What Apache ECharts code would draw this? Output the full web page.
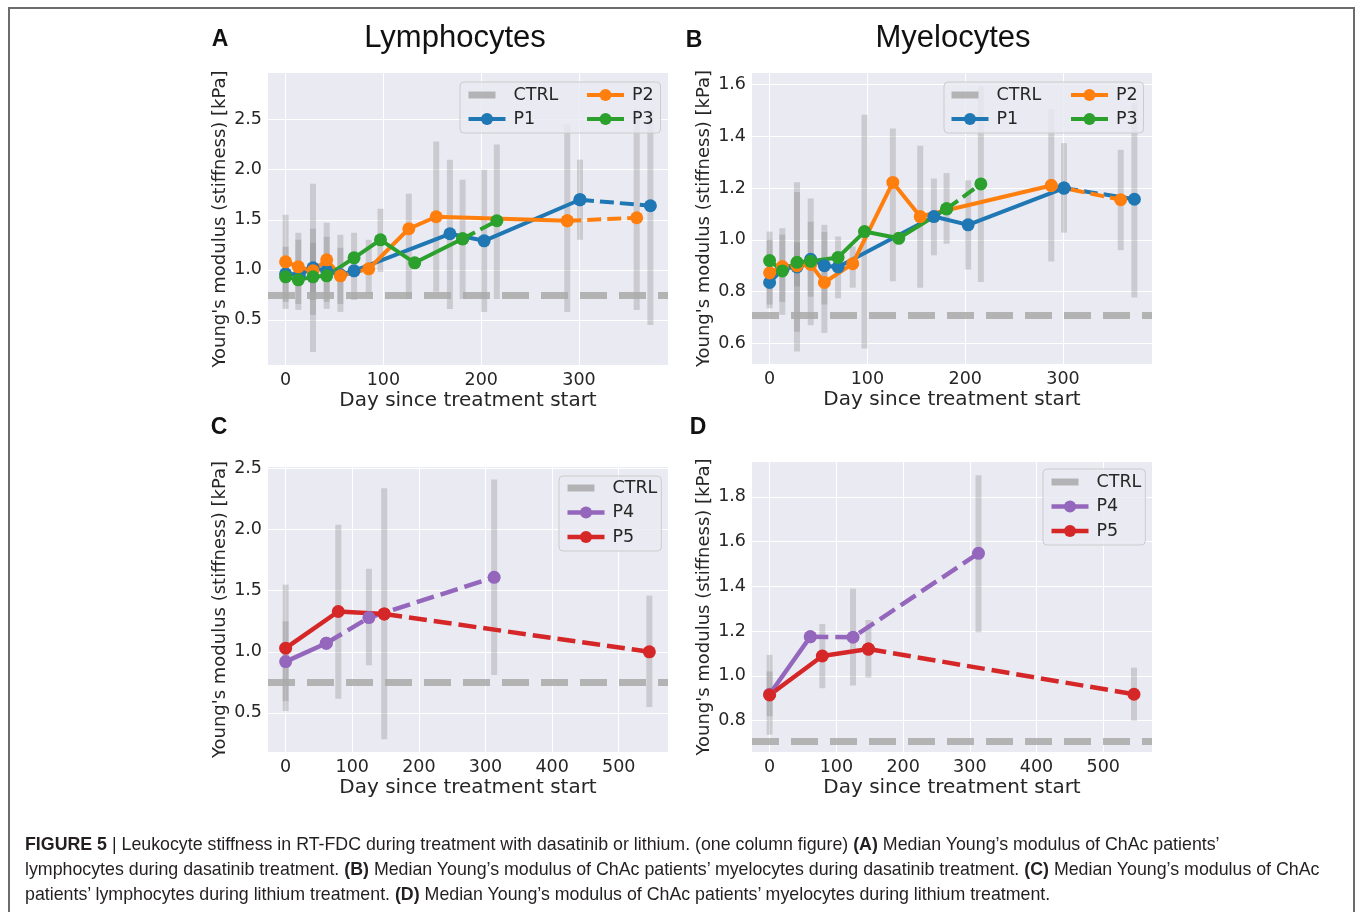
<!DOCTYPE html>
<html>
<head>
<meta charset="utf-8">
<title>Figure 5 - Leukocyte stiffness</title>
<script src="https://cdn.jsdelivr.net/npm/echarts@6/dist/echarts.min.js"></script>
<style>
  html, body { margin: 0; padding: 0; background: #fff; }
  #page { position: relative; width: 1355px; height: 912px; overflow: hidden; }
  #frame { position: absolute; left: 8px; top: 7px; width: 1343px; height: 940px; border: 2px solid #6c6c6c; border-bottom: none; }
  #chart { position: absolute; left: 0; top: 0; width: 1355px; height: 912px; }
  #caption { position: absolute; left: 25px; top: 832px; font-family: "Liberation Sans", Arial, sans-serif;
             font-size: 17.8px; line-height: 25px; color: #231f20; white-space: nowrap; }
</style>
</head>
<body>
<div id="page">
  <div id="frame"></div>
  <div id="chart"></div>
  <div id="caption">
    <b>FIGURE 5</b> | Leukocyte stiffness in RT-FDC during treatment with dasatinib or lithium. (one column figure) <b>(A)</b> Median Young’s modulus of ChAc patients’<br>
    lymphocytes during dasatinib treatment. <b>(B)</b> Median Young’s modulus of ChAc patients’ myelocytes during dasatinib treatment. <b>(C)</b> Median Young’s modulus of ChAc<br>
    patients’ lymphocytes during lithium treatment. <b>(D)</b> Median Young’s modulus of ChAc patients’ myelocytes during lithium treatment.
  </div>
</div>
<script>
// 天数（治疗开始后）
var p1Days = [0, 14, 28, 42, 56, 70, 168, 203, 301, 373];
var p2Days = [0, 13, 28, 42, 56, 85, 126, 154, 288, 359];
var p3Days = [0, 13, 28, 42, 70, 97, 132, 181, 216];
var p4Days = [0, 61, 125, 313];
var p5Days = [0, 79, 148, 546];

// median Young's modulus [kPa] - lymphocytes
var lymP1 = [0.96, 0.95, 1.02, 0.99, 0.95, 0.99, 1.36, 1.29, 1.70, 1.64];
var lymP2 = [1.08, 1.03, 0.99, 1.10, 0.94, 1.01, 1.41, 1.53, 1.49, 1.52];
var lymP3 = [0.93, 0.90, 0.93, 0.94, 1.12, 1.30, 1.07, 1.31, 1.49];
var lymP4 = [0.92, 1.07, 1.28, 1.61];
var lymP5 = [1.03, 1.33, 1.31, 1.00];

// median Young's modulus [kPa] - myelocytes
var myeP1 = [0.835, 0.89, 0.895, 0.925, 0.90, 0.895, 1.09, 1.058, 1.20, 1.157];
var myeP2 = [0.872, 0.897, 0.90, 0.905, 0.835, 0.908, 1.222, 1.09, 1.21, 1.155];
var myeP3 = [0.92, 0.88, 0.913, 0.917, 0.932, 1.032, 1.006, 1.12, 1.216];
var myeP4 = [0.918, 1.175, 1.173, 1.548];
var myeP5 = [0.915, 1.089, 1.12, 0.918];

// point index where a patient's line turns dashed
var dashFrom = { P1: 8, P2: 8, P3: 7, P4: 1, P5: 2 };

// control medians
var ctrlLym = 0.752;
var ctrlMye = 0.711;

// gray ranges: [day, low, high]
var barsA = [
  [0, 0.61, 1.55], [0, 0.68, 1.23], [13, 0.60, 1.37], [13, 0.66, 1.30],
  [28, 0.18, 1.86], [28, 0.55, 1.41], [28, 0.70, 1.27], [42, 0.61, 1.47], [42, 0.68, 1.33],
  [56, 0.58, 1.35], [56, 0.66, 1.22], [70, 0.70, 1.37], [85, 0.76, 1.30], [97, 0.98, 1.61],
  [126, 0.71, 1.76], [154, 0.78, 2.28], [168, 0.61, 2.10], [181, 0.71, 1.90],
  [203, 0.58, 2.00], [216, 0.71, 2.25], [288, 0.58, 2.45], [301, 1.30, 2.10],
  [359, 0.60, 2.60], [373, 0.45, 2.60]
];
var barsB = [
  [0, 0.735, 1.032], [0, 0.75, 1.00], [13, 0.71, 1.045], [13, 0.76, 1.02],
  [28, 0.568, 1.223], [28, 0.645, 1.185], [28, 0.82, 0.99], [42, 0.67, 1.16], [42, 0.78, 1.07],
  [56, 0.64, 1.058], [56, 0.75, 1.03], [70, 0.774, 1.013], [85, 0.815, 0.974], [97, 0.58, 1.484],
  [126, 0.84, 1.43], [154, 0.815, 1.364], [168, 0.94, 1.237], [181, 0.985, 1.258],
  [203, 0.885, 1.23], [216, 0.837, 1.593], [288, 0.916, 1.505], [301, 1.028, 1.374],
  [359, 0.96, 1.348], [373, 0.777, 1.53]
];
var barsC = [
  [0, 0.515, 1.55], [0, 0.597, 1.25], [79, 0.616, 2.04], [125, 0.89, 1.68],
  [148, 0.284, 2.34], [313, 0.81, 2.41], [546, 0.548, 1.46]
];
var barsD = [
  [0, 0.737, 1.094], [0, 0.82, 1.02], [79, 0.945, 1.232], [125, 0.957, 1.39],
  [148, 0.993, 1.25], [313, 1.195, 1.897], [546, 0.80, 1.037]
];

// tick labels
var dayTicksShort = [0, 100, 200, 300];
var dayTicksLong = [0, 100, 200, 300, 400, 500];
var ticksA = [0.5, 1.0, 1.5, 2.0, 2.5];
var ticksB = [0.6, 0.8, 1.0, 1.2, 1.4, 1.6];
var ticksC = [0.5, 1.0, 1.5, 2.0, 2.5];
var ticksD = [0.8, 1.0, 1.2, 1.4, 1.6, 1.8];

var colors = { P1: "#1f77b4", P2: "#ff7f0e", P3: "#2ca02c", P4: "#9467bd", P5: "#d62728" };
var FONT = "DejaVu Sans";
var TXT = "#262626";
var BAR = "rgba(128,128,128,0.3)";
var CTRL_COLOR = "rgba(169,169,169,0.85)";
var CTRL_DASH = [27, 12];

var chartDom = document.getElementById("chart");
var myChart = echarts.init(chartDom);

// 四个面板的布局
var panels = [
  { rect: [268, 73, 400, 292], x: [-18, 391], y: [0.05, 2.965], xt: dayTicksShort, yt: ticksA, lw: 4, dash: [14, 6],
    ctrl: ctrlLym, bars: barsA, pts: [["P1", p1Days, lymP1], ["P2", p2Days, lymP2], ["P3", p3Days, lymP3]] },
  { rect: [752, 73, 400, 291], x: [-18, 391], y: [0.52, 1.645], xt: dayTicksShort, yt: ticksB, lw: 4, dash: [14, 6],
    ctrl: ctrlMye, bars: barsB, pts: [["P1", p1Days, myeP1], ["P2", p2Days, myeP2], ["P3", p3Days, myeP3]] },
  { rect: [268, 467, 400, 285], x: [-26.5, 574], y: [0.18, 2.513], xt: dayTicksLong, yt: ticksC, lw: 4.5, dash: [18, 7],
    ctrl: ctrlLym, bars: barsC, pts: [["P4", p4Days, lymP4], ["P5", p5Days, lymP5]] },
  { rect: [752, 462, 400, 290], x: [-26.4, 573], y: [0.66, 1.956], xt: dayTicksLong, yt: ticksD, lw: 4.5, dash: [18, 7],
    ctrl: ctrlMye, bars: barsD, pts: [["P4", p4Days, myeP4], ["P5", p5Days, myeP5]] }
];

function renderBar(params, api) {
  var lo = api.coord([api.value(0), api.value(1)]);
  var hi = api.coord([api.value(0), api.value(2)]);
  return {
    type: "rect",
    shape: { x: lo[0] - 3, y: hi[1], width: 6, height: lo[1] - hi[1] },
    style: { fill: BAR }
  };
}

var grids = [], xAxes = [], yAxes = [], series = [];

panels.forEach(function (p, i) {
  grids.push({ left: p.rect[0], top: p.rect[1], width: p.rect[2], height: p.rect[3],
    show: true, backgroundColor: "#eaeaf2", borderWidth: 0 });

  xAxes.push({
    gridIndex: i, type: "value", min: p.x[0], max: p.x[1],
    axisLine: { show: false },
    axisTick: { show: false, customValues: p.xt },
    axisLabel: { customValues: p.xt, fontSize: 17.5, fontFamily: FONT, color: TXT, margin: 6 },
    splitLine: { show: true, lineStyle: { color: "#ffffff", width: 1 } },
    name: "Day since treatment start", nameLocation: "middle", nameGap: 26,
    nameTextStyle: { fontSize: 20, fontFamily: FONT, color: TXT }
  });
  yAxes.push({
    gridIndex: i, type: "value", min: p.y[0], max: p.y[1],
    axisLine: { show: false },
    axisTick: { show: false, customValues: p.yt },
    axisLabel: { customValues: p.yt, fontSize: 17.5, fontFamily: FONT, color: TXT, margin: 6,
      formatter: function (v) { return v.toFixed(1); } },
    splitLine: { show: true, lineStyle: { color: "#ffffff", width: 1 } },
    name: "Young's modulus (stiffness) [kPa]", nameLocation: "middle", nameGap: 39,
    nameTextStyle: { fontSize: 18, fontFamily: FONT, color: TXT }
  });

  // 对照组虚线
  series.push({
    type: "line", name: "CTRL", xAxisIndex: i, yAxisIndex: i, data: [], symbol: "none",
    lineStyle: { color: CTRL_COLOR, width: 7, type: CTRL_DASH }, itemStyle: { color: CTRL_COLOR },
    markLine: { silent: true, symbol: ["none", "none"], label: { show: false },
      lineStyle: { color: CTRL_COLOR, width: 7, type: CTRL_DASH }, data: [{ yAxis: p.ctrl }] }
  });

  // 灰色误差条
  series.push({
    type: "custom", name: "range", xAxisIndex: i, yAxisIndex: i, renderItem: renderBar,
    encode: { x: 0, y: [1, 2] }, data: p.bars, clip: true, silent: true, z: 3
  });

  p.pts.forEach(function (s) {
    var name = s[0], pts = s[1].map(function (d, k) { return [d, s[2][k]]; });
    var from = dashFrom[name];
    var base = { type: "line", name: name, xAxisIndex: i, yAxisIndex: i, symbol: "circle", symbolSize: 13,
      itemStyle: { color: colors[name] }, emphasis: { disabled: true }, z: 5 };
    series.push(Object.assign({}, base, { data: pts.slice(0, from + 1),
      lineStyle: { color: colors[name], width: p.lw } }));
    series.push(Object.assign({}, base, { data: pts.slice(from),
      lineStyle: { color: colors[name], width: p.lw, type: p.dash } }));
  });
});

function legendItems(names) {
  return names.map(function (n) {
    if (n !== "CTRL") return n;
    return { name: n, itemStyle: { opacity: 0 }, lineStyle: { width: 7, type: CTRL_DASH, color: CTRL_COLOR } };
  });
}

function legendBox(left, top, names, pad, gap, textWidth, boxed, z, lw) {
  var ts = { fontSize: 17.5, fontFamily: FONT, color: TXT, lineHeight: 20, padding: [0, 0, 0, 3] };
  if (textWidth) ts.width = textWidth;
  return {
    data: legendItems(names), orient: "vertical", left: left, top: top, padding: pad, itemGap: gap,
    itemWidth: 37, itemHeight: 15, textStyle: ts, z: z,
    lineStyle: { width: lw },
    backgroundColor: boxed ? "rgba(234,234,242,0.8)" : "transparent",
    borderColor: boxed ? "#cccccc" : "transparent", borderWidth: boxed ? 1 : 0, borderRadius: 4
  };
}

var option = {
  animation: false,
  grid: grids,
  xAxis: xAxes,
  yAxis: yAxes,
  legend: [
    legendBox(460, 82, ["CTRL", "P1"], [3, 97, 4, 5], 4, 50, true, 4, 4),
    legendBox(585, 85, ["P2", "P3"], 0, 4, null, false, 5, 4),
    legendBox(944, 82, ["CTRL", "P1"], [3, 97, 4, 4], 4, 50, true, 4, 4),
    legendBox(1069, 85, ["P2", "P3"], 0, 4, null, false, 5, 4),
    legendBox(559, 476, ["CTRL", "P4", "P5"], [2, 4, 4, 5], 4.5, null, true, 4, 4.5),
    legendBox(1043, 469, ["CTRL", "P4", "P5"], [3, 4, 4, 5], 4.5, null, true, 4, 4.5)
  ],
  graphic: [
    { type: "text", x: 455, y: 38, style: { text: "Lymphocytes", fontSize: 31, fontFamily: "Liberation Sans", fill: "#111", align: "center", verticalAlign: "middle" } },
    { type: "text", x: 953, y: 38, style: { text: "Myelocytes", fontSize: 31, fontFamily: "Liberation Sans", fill: "#111", align: "center", verticalAlign: "middle" } },
    { type: "text", x: 220, y: 40, style: { text: "A", fontSize: 23, fontWeight: "bold", fontFamily: "Liberation Sans", fill: "#111", align: "center", verticalAlign: "middle" } },
    { type: "text", x: 694, y: 41, style: { text: "B", fontSize: 23, fontWeight: "bold", fontFamily: "Liberation Sans", fill: "#111", align: "center", verticalAlign: "middle" } },
    { type: "text", x: 219, y: 428, style: { text: "C", fontSize: 23, fontWeight: "bold", fontFamily: "Liberation Sans", fill: "#111", align: "center", verticalAlign: "middle" } },
    { type: "text", x: 698, y: 428, style: { text: "D", fontSize: 23, fontWeight: "bold", fontFamily: "Liberation Sans", fill: "#111", align: "center", verticalAlign: "middle" } }
  ],
  series: series
};

myChart.setOption(option);

window.addEventListener("resize", function () {
  myChart.resize();
});
</script>
</body>
</html>
